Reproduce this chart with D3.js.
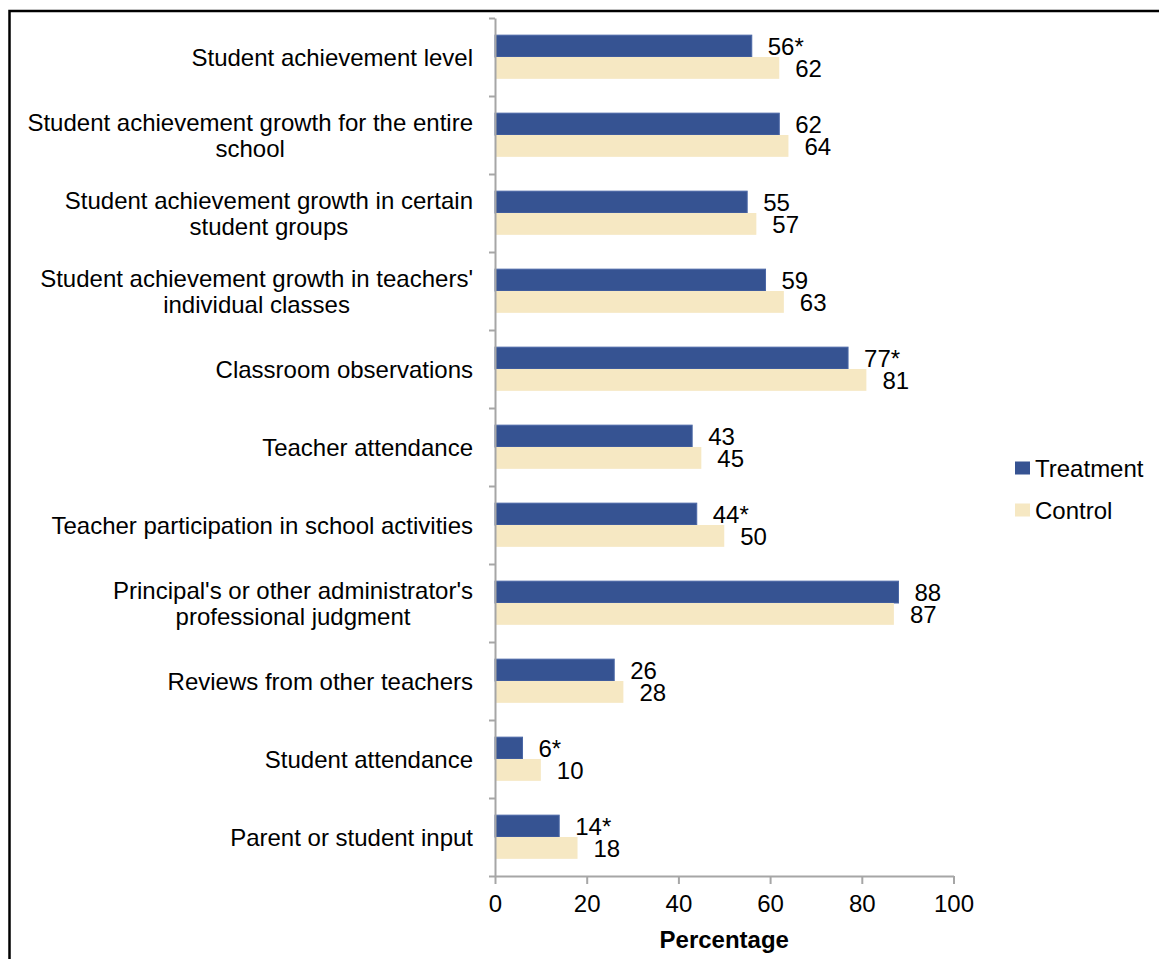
<!DOCTYPE html>
<html>
<head>
<meta charset="utf-8">
<script src="https://cdn.jsdelivr.net/npm/d3@7"></script>
<style>
  html, body { margin: 0; padding: 0; background: #fff; }
  svg { display: block; }
  text { font-family: "Liberation Sans", Arial, sans-serif; fill: #000; }
</style>
</head>
<body>
<script>
const categories = [
  "Student achievement level",
  "Student achievement growth for the entire\nschool",
  "Student achievement growth in certain\nstudent groups",
  "Student achievement growth in teachers'\nindividual classes",
  "Classroom observations",
  "Teacher attendance",
  "Teacher participation in school activities",
  "Principal's or other administrator's\nprofessional judgment",
  "Reviews from other teachers",
  "Student attendance",
  "Parent or student input"
];
const treatment = [56, 62, 55, 59, 77, 43, 44, 88, 26, 6, 14];
const control   = [62, 64, 57, 63, 81, 45, 50, 87, 28, 10, 18];
const treatmentLabels = ["56*", "62", "55", "59", "77*", "43", "44*", "88", "26", "6*", "14*"];
const controlLabels   = ["62", "64", "57", "63", "81", "45", "50", "87", "28", "10", "18"];
const seriesNames = ["Treatment", "Control"];
const seriesColors = ["#365392", "#F6E8C3"];
const xTicks = [0, 20, 40, 60, 80, 100];

(function () {
const W = 1159, H = 959;
const mLeft = 495, mRight = 953.5, mTop = 18, mBottom = 876;

const svg = d3.select("body").append("svg").attr("width", W).attr("height", H);

// frame
svg.append("rect").attr("x", 9.5).attr("y", 11).attr("width", 1300).attr("height", 1100)
  .attr("fill", "none").attr("stroke", "#000").attr("stroke-width", 2.5);

const x = d3.scaleLinear().domain([0, 100]).range([mLeft, mRight]);
const pi = 0.44;
const y = d3.scaleBand().domain(categories).range([mTop, mBottom]).paddingInner(pi).paddingOuter(pi / 2);
const ySub = d3.scaleBand().domain(seriesNames).range([0, y.bandwidth()]);
const yIdx = d3.scaleLinear().domain([0, categories.length]).range([mTop, mBottom]);

const rows = categories.map((c, i) => ({
  c, vals: [
    { s: "Treatment", v: treatment[i], l: treatmentLabels[i] },
    { s: "Control", v: control[i], l: controlLabels[i] }
  ]
}));

// bars
const g = svg.append("g");
rows.forEach(r => {
  r.vals.forEach((d, j) => {
    g.append("rect")
      .attr("x", x(0))
      .attr("y", y(r.c) + ySub(d.s))
      .attr("width", x(d.v) - x(0))
      .attr("height", ySub.bandwidth())
      .attr("fill", seriesColors[j])
      .attr("stroke", j === 0 ? "#4a67a6" : "none")
      .attr("stroke-width", j === 0 ? 1 : 0);
    g.append("text")
      .attr("x", x(d.v) + 16)
      .attr("y", y(r.c) + ySub(d.s) + ySub.bandwidth() / 2)
      .attr("dy", "0.36em")
      .attr("font-size", 24)
      .text(d.l);
  });
});

// axes
const axisColor = "#A6A6A6";
const xAxis = svg.append("g").attr("transform", `translate(0,${mBottom})`)
  .call(d3.axisBottom(x).tickValues(xTicks).tickSize(8).tickPadding(11).tickSizeOuter(0));
xAxis.select(".domain").attr("stroke", axisColor).attr("stroke-width", 2);
xAxis.selectAll(".tick line").attr("stroke", axisColor).attr("stroke-width", 2);
xAxis.selectAll(".tick text").attr("font-size", 24).attr("font-family", "Liberation Sans, Arial, sans-serif").attr("fill", "#000");

const yAxis = svg.append("g").attr("transform", `translate(${mLeft},0)`)
  .call(d3.axisLeft(yIdx).tickValues(d3.range(categories.length + 1)).tickSize(6).tickFormat("").tickSizeOuter(0));
yAxis.select(".domain").attr("stroke", axisColor).attr("stroke-width", 2);
yAxis.selectAll(".tick line").attr("stroke", axisColor).attr("stroke-width", 2);

// category labels
const labelRight = 473;
const lineH = 26;
categories.forEach(c => {
  const lines = c.split("\n");
  const cy = y(c) + y.bandwidth() / 2;
  const grp = svg.append("g");
  const texts = lines.map((ln, k) => grp.append("text")
    .attr("y", cy + (k - (lines.length - 1) / 2) * lineH)
    .attr("dy", "0.36em")
    .attr("font-size", 24)
    .attr("text-anchor", "middle")
    .text(ln));
  const maxW = d3.max(texts, t => t.node().getComputedTextLength());
  texts.forEach(t => t.attr("x", labelRight - maxW / 2));
});

// axis title
svg.append("text").attr("x", (mLeft + mRight) / 2).attr("y", 939).attr("dy", "0.36em")
  .attr("text-anchor", "middle").attr("font-size", 24).attr("font-weight", "bold").text("Percentage");

// legend
const legY = [468, 510];
seriesNames.forEach((s, i) => {
  svg.append("rect").attr("x", 1015).attr("y", legY[i] - 6.5).attr("width", 15).attr("height", 13)
    .attr("fill", seriesColors[i]);
  svg.append("text").attr("x", 1035).attr("y", legY[i]).attr("dy", "0.36em")
    .attr("font-size", 24).text(s);
});
})();
</script>
</body>
</html>
